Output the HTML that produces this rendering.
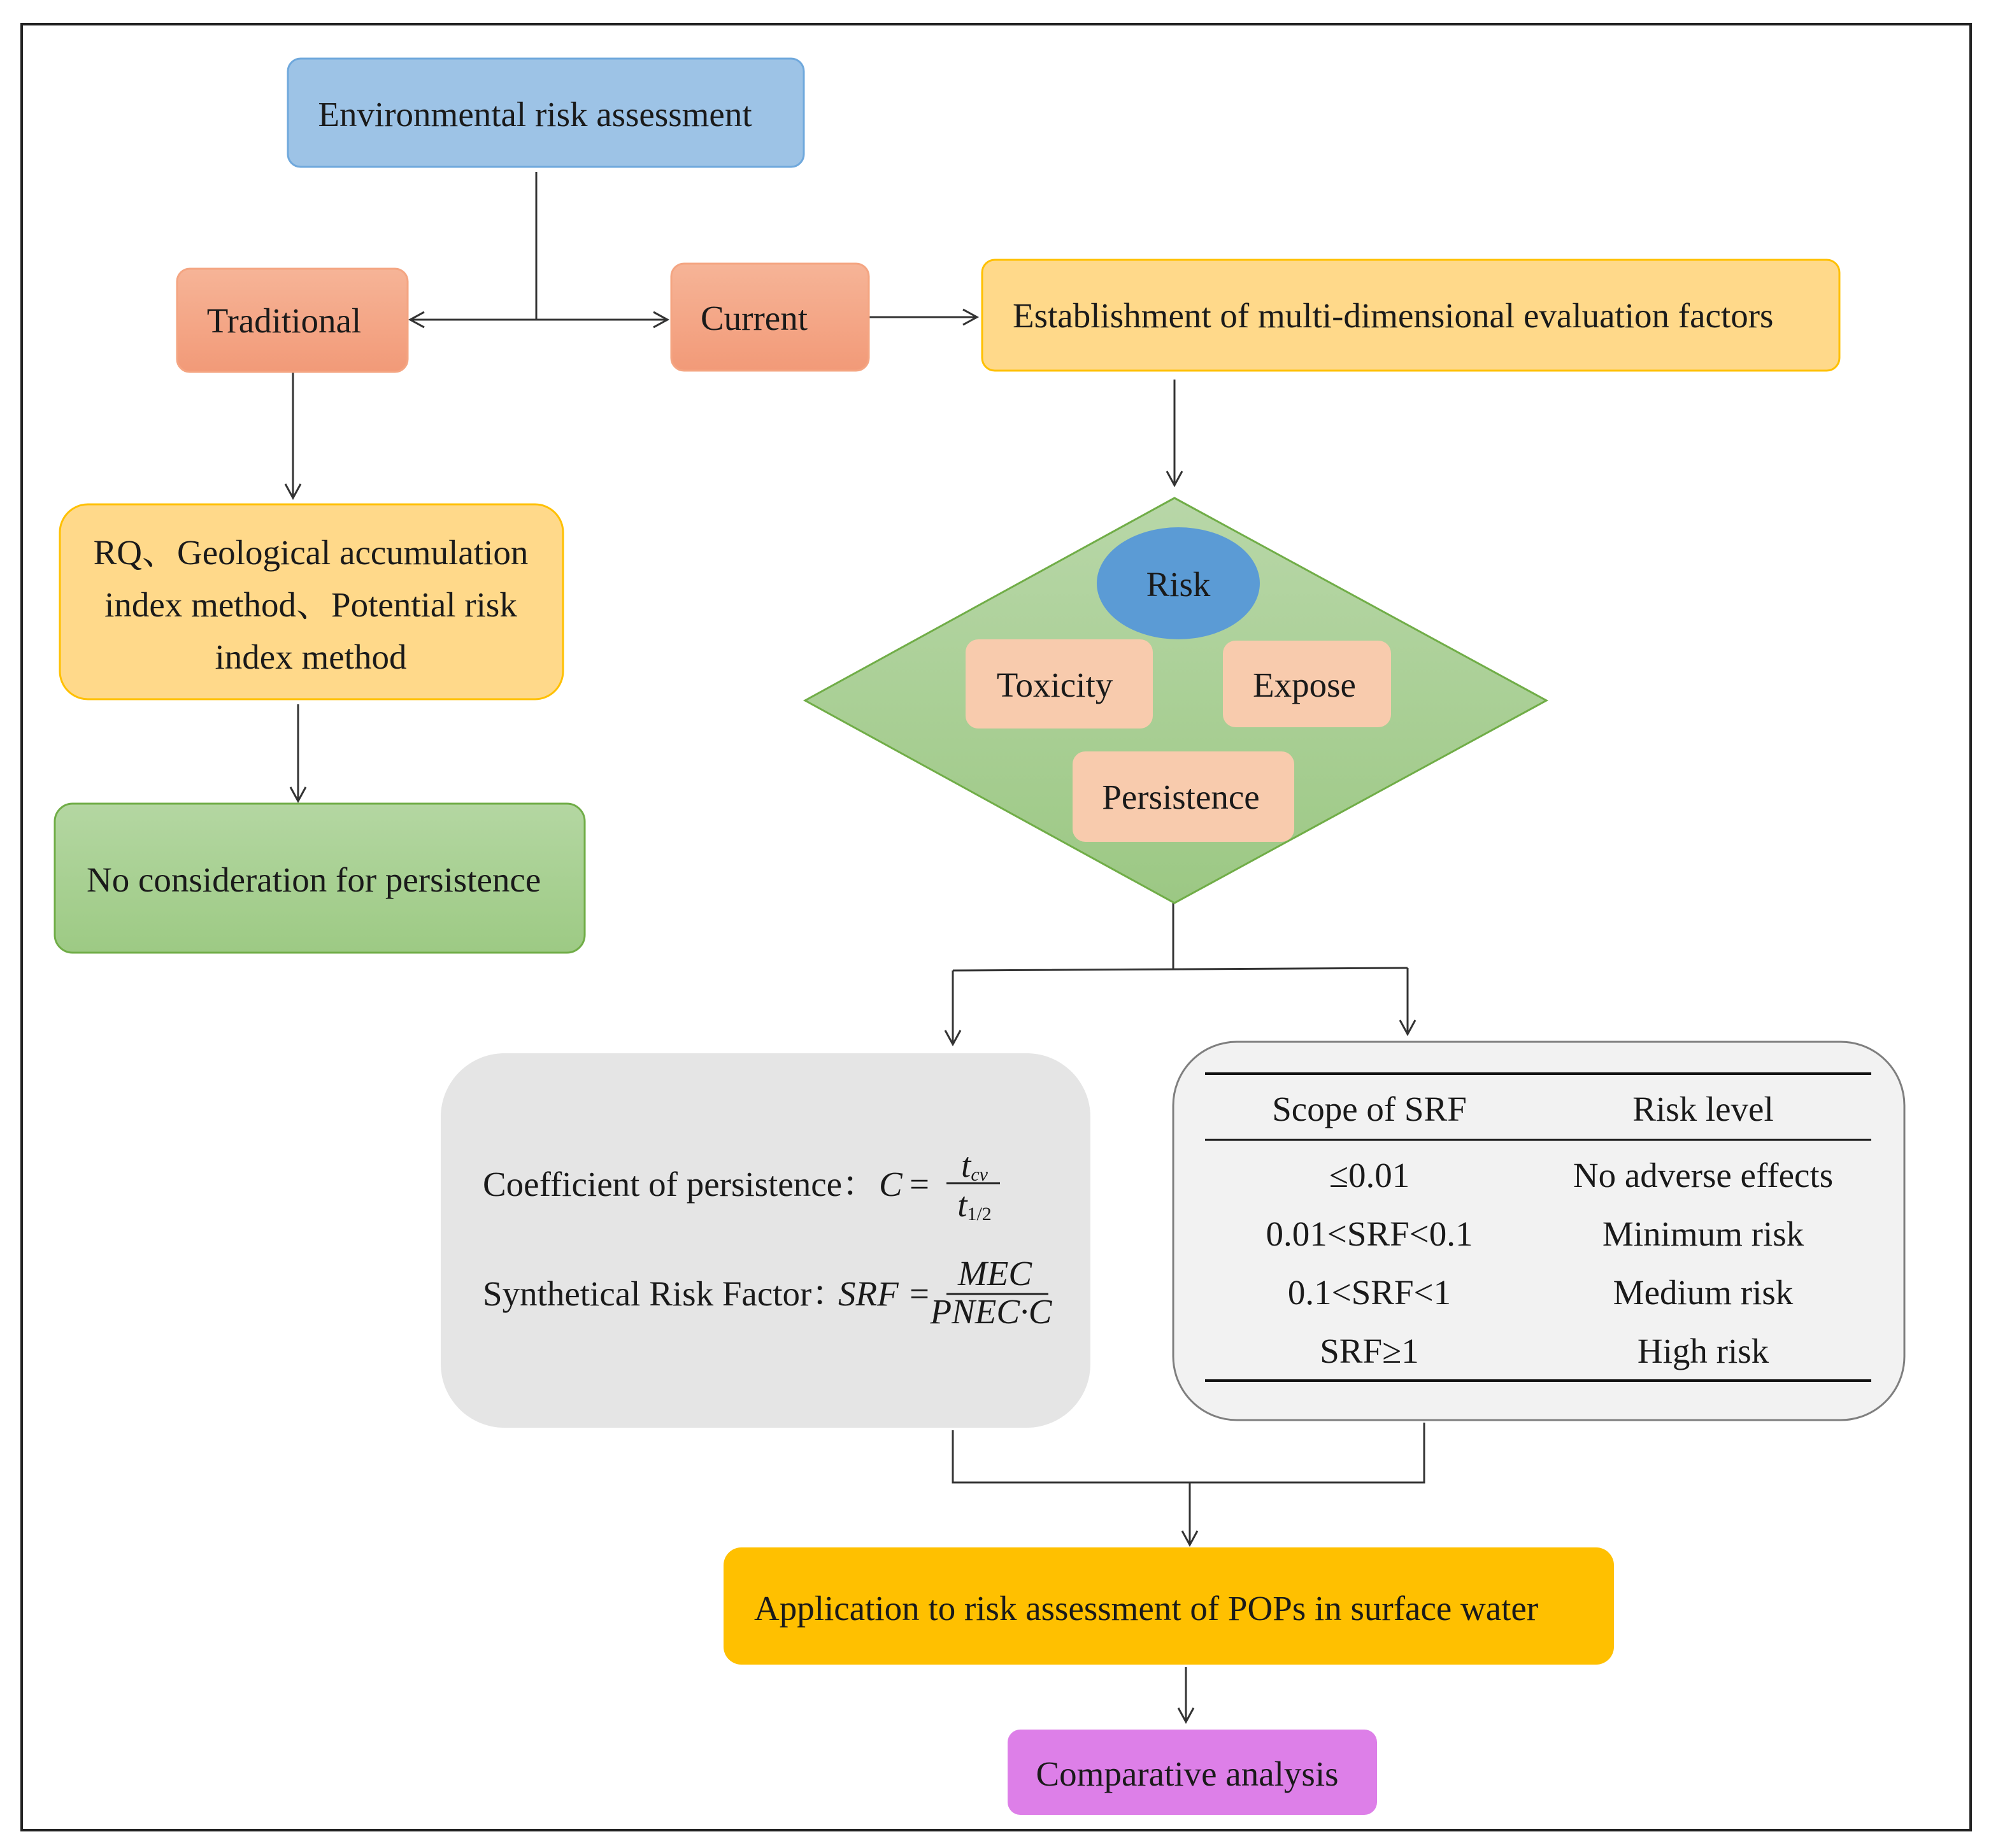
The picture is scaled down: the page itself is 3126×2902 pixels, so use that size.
<!DOCTYPE html>
<html><head><meta charset="utf-8"><style>
html,body{margin:0;padding:0;background:#fff}
svg{display:block}
text{font-family:"Liberation Serif","Noto Serif CJK SC",serif;font-size:27.5px;fill:#1a1a1a}
.i{font-style:italic}
</style></head><body>
<svg width="3126" height="2902" viewBox="0 0 1563 1451" xmlns="http://www.w3.org/2000/svg">
<defs>
<marker id="a" markerWidth="14" markerHeight="14" refX="12" refY="7" orient="auto" markerUnits="userSpaceOnUse">
<path d="M1,1 L12,7 L1,13" fill="none" stroke="#333" stroke-width="1.5"/></marker>
<linearGradient id="g" x1="0" y1="0" x2="0" y2="1"><stop offset="0" stop-color="#b8d7a8"/><stop offset="1" stop-color="#9cc884"/></linearGradient>
<linearGradient id="o" x1="0" y1="0" x2="0" y2="1"><stop offset="0" stop-color="#f6b497"/><stop offset="1" stop-color="#f29a78"/></linearGradient>
<linearGradient id="gr" x1="0" y1="0" x2="0" y2="1"><stop offset="0" stop-color="#b4d7a2"/><stop offset="1" stop-color="#9dca84"/></linearGradient>
</defs>
<rect x="17" y="19" width="1530" height="1418" fill="#fff" stroke="#222" stroke-width="2"/>
<rect x="226" y="46" width="405" height="85" rx="10" fill="#9dc3e6" stroke="#6fa8dc" stroke-width="1.5"/>
<text x="420" y="99" text-anchor="middle">Environmental risk assessment</text>
<g stroke="#333" stroke-width="1.5" fill="none">
<path d="M421,135 V251"/>
<path d="M421,251 H322" marker-end="url(#a)"/>
<path d="M421,251 H524" marker-end="url(#a)"/>
<path d="M682,249 H767" marker-end="url(#a)"/>
<path d="M922,298 V381" marker-end="url(#a)"/>
<path d="M230,292 V391" marker-end="url(#a)"/>
<path d="M234,553 V629" marker-end="url(#a)"/>
<path d="M921,709 V761 M748,762 L1105,760"/>
<path d="M748,762 V820" marker-end="url(#a)"/>
<path d="M1105,760 V812" marker-end="url(#a)"/>
<path d="M748,1123 V1164 H1118 V1117"/>
<path d="M934,1164 V1213" marker-end="url(#a)"/>
<path d="M931,1309 V1352" marker-end="url(#a)"/>
</g>
<rect x="139" y="211" width="181" height="81" rx="10" fill="url(#o)" stroke="#f4a582" stroke-width="1.5"/>
<text x="223" y="261" text-anchor="middle">Traditional</text>
<rect x="527" y="207" width="155" height="84" rx="10" fill="url(#o)" stroke="#f4a582" stroke-width="1.5"/>
<text x="592" y="259" text-anchor="middle">Current</text>
<rect x="771" y="204" width="673" height="87" rx="10" fill="#ffd98a" stroke="#ffc000" stroke-width="1.5"/>
<text x="795" y="257">Establishment of multi-dimensional evaluation factors</text>
<polygon points="922,391 1214,550 922,709 632,550" fill="url(#g)" stroke="#70ad47" stroke-width="1.5"/>
<ellipse cx="925" cy="458" rx="64" ry="44" fill="#5b9bd5"/>
<text x="925" y="468" text-anchor="middle">Risk</text>
<rect x="758" y="502" width="147" height="70" rx="10" fill="#f8cbad"/>
<text x="828" y="547" text-anchor="middle">Toxicity</text>
<rect x="960" y="503" width="132" height="68" rx="10" fill="#f8cbad"/>
<text x="1024" y="547" text-anchor="middle">Expose</text>
<rect x="842" y="590" width="174" height="71" rx="10" fill="#f8cbad"/>
<text x="927" y="635" text-anchor="middle">Persistence</text>
<rect x="47" y="396" width="395" height="153" rx="22" fill="#ffd98a" stroke="#ffc000" stroke-width="1.5"/>
<text x="244" y="443" text-anchor="middle">RQ、Geological accumulation</text>
<text x="244" y="484" text-anchor="middle">index method、Potential risk</text>
<text x="244" y="525" text-anchor="middle">index method</text>
<rect x="43" y="631" width="416" height="117" rx="14" fill="url(#gr)" stroke="#70ad47" stroke-width="1.5"/>
<text x="68" y="700">No consideration for persistence</text>
<rect x="346" y="827" width="510" height="294" rx="50" fill="#e5e5e5"/>
<text x="379" y="939">Coefficient of persistence：</text>
<text x="690" y="939" class="i">C</text><text x="714" y="939">=</text>
<text x="765" y="924" text-anchor="middle" class="i" font-size="20">t<tspan font-size="15" dy="3">cv</tspan></text>
<line x1="743" y1="929" x2="785" y2="929" stroke="#222" stroke-width="1.5"/>
<text x="765" y="955" text-anchor="middle" class="i" font-size="20">t<tspan font-size="15" dy="3" font-style="normal">1/2</tspan></text>
<text x="379" y="1025">Synthetical Risk Factor：</text>
<text x="658" y="1025" class="i">SRF</text><text x="714" y="1025">=</text>
<text x="781" y="1009" text-anchor="middle" class="i" font-size="18">MEC</text>
<line x1="743" y1="1016" x2="823" y2="1016" stroke="#222" stroke-width="1.5"/>
<text x="778" y="1039" text-anchor="middle" class="i" font-size="18">PNEC·C</text>
<rect x="921" y="818" width="574" height="297" rx="50" fill="#f2f2f2" stroke="#7f7f7f" stroke-width="1.5"/>
<line x1="946" y1="843" x2="1469" y2="843" stroke="#111" stroke-width="2"/>
<line x1="946" y1="895" x2="1469" y2="895" stroke="#111" stroke-width="1.5"/>
<line x1="946" y1="1084" x2="1469" y2="1084" stroke="#111" stroke-width="2"/>
<g text-anchor="middle">
<text x="1075" y="880">Scope of SRF</text><text x="1337" y="880">Risk level</text>
<text x="1075" y="932">≤0.01</text><text x="1337" y="932">No adverse effects</text>
<text x="1075" y="978">0.01&lt;SRF&lt;0.1</text><text x="1337" y="978">Minimum risk</text>
<text x="1075" y="1024">0.1&lt;SRF&lt;1</text><text x="1337" y="1024">Medium risk</text>
<text x="1075" y="1070">SRF≥1</text><text x="1337" y="1070">High risk</text>
</g>
<rect x="568" y="1215" width="699" height="92" rx="14" fill="#ffc000"/>
<text x="592" y="1272">Application to risk assessment of POPs in surface water</text>
<rect x="791" y="1358" width="290" height="67" rx="10" fill="#dd7fe8"/>
<text x="932" y="1402" text-anchor="middle">Comparative analysis</text>
</svg>
</body></html>
